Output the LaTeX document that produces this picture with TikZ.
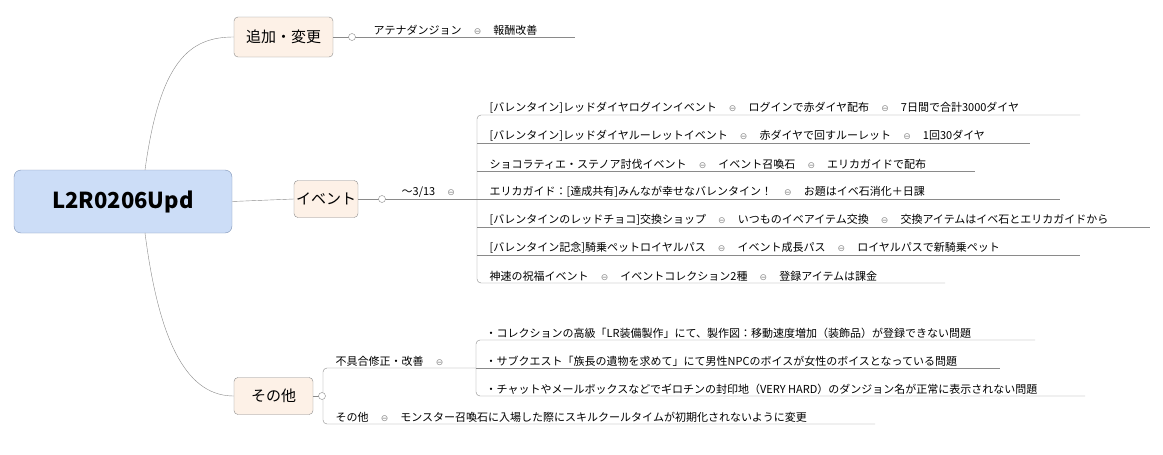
\documentclass[tikz,border=0pt]{standalone}
\usepackage{fontspec}
\setmainfont{Noto Sans CJK JP}
\newfontfamily\symfont{DejaVu Sans}
\usetikzlibrary{positioning}
\definecolor{rootfill}{HTML}{CCDDF7}
\definecolor{rootdraw}{HTML}{7D93B5}
\definecolor{topicfill}{HTML}{FDF1E7}
\definecolor{linegray}{HTML}{8A8A8A}
\newcommand{\sepmark}{\hspace{1.1em}{\symfont\color{linegray}\small ⊖}\hspace{1.1em}}
\tikzset{
  topic/.style={draw=linegray,fill=topicfill,rounded corners=4pt,font=\fontsize{15}{17}\selectfont,inner sep=0pt},
  leaf/.style={anchor=south west,font=\fontsize{11}{13}\selectfont,inner sep=1.5pt},
  branch/.style={draw=linegray,thin},
  knob/.style={draw=linegray,circle,fill=white,inner sep=0pt,minimum size=7pt}
}
\begin{document}
\begin{tikzpicture}[x=1pt,y=-1pt]
\useasboundingbox (0,0) rectangle (1163,455);

% root and main topics
\node (root) at (123,201.5) [draw=rootdraw,fill=rootfill,rounded corners=7pt,minimum width=218pt,minimum height=63pt,font=\fontsize{22}{26}\selectfont\bfseries] {L2R0206Upd};
\node (add) at (283.5,37) [topic,minimum width=99pt,minimum height=40pt] {追加・変更};
\node (event) at (326,199) [topic,minimum width=64pt,minimum height=37pt] {イベント};
\node (misc) at (273.5,396) [topic,minimum width=79pt,minimum height=37pt] {その他};

\draw[branch] (145,170) .. controls (160,60) and (190,37) .. (add.west);
\draw[branch] (root.east) -- (event.west);
\draw[branch] (145,233) .. controls (160,350) and (190,396) .. (misc.west);

% 追加・変更
\draw[branch] (add.east) -- (575,37);
\node (addknob) at (352,37) [knob] {};
\node (athena) at (372,37) [leaf] {アテナダンジョン\sepmark 報酬改善};

% イベント
\coordinate (ebr) at (477,199);
\draw[branch] (event.east) -- (ebr);
\node (eknob) at (382,199) [knob] {};
\node (eterm) at (400,199) [leaf] {〜3/13\sepmark};
\draw[branch,rounded corners=4pt] (1080,115) -- (477,115) -- (477,283) -- (945,283);
\foreach \yy/\xe in {143/1030,171/975,199/1060,227/1150,255/1080}
  \draw[branch] (477,\yy) -- (\xe,\yy);
\node (ev1) at (488,115) [leaf] {[バレンタイン]レッドダイヤログインイベント\sepmark ログインで赤ダイヤ配布\sepmark 7日間で合計3000ダイヤ};
\node (ev2) at (488,143) [leaf] {[バレンタイン]レッドダイヤルーレットイベント\sepmark 赤ダイヤで回すルーレット\sepmark 1回30ダイヤ};
\node (ev3) at (488,171) [leaf] {ショコラティエ・ステノア討伐イベント\sepmark イベント召喚石\sepmark エリカガイドで配布};
\node (ev4) at (488,199) [leaf] {エリカガイド：[達成共有]みんなが幸せなバレンタイン！\sepmark お題はイベ石消化＋日課};
\node (ev5) at (488,227) [leaf] {[バレンタインのレッドチョコ]交換ショップ\sepmark いつものイベアイテム交換\sepmark 交換アイテムはイベ石とエリカガイドから};
\node (ev6) at (488,255) [leaf] {[バレンタイン記念]騎乗ペットロイヤルパス\sepmark イベント成長パス\sepmark ロイヤルパスで新騎乗ペット};
\node (ev7) at (488,283) [leaf] {神速の祝福イベント\sepmark イベントコレクション2種\sepmark 登録アイテムは課金};

% その他
\draw[branch] (misc.east) -- (323,396);
\draw[branch,rounded corners=4pt] (476,368) -- (323,368) -- (323,424) -- (875,424);
\node (mknob) at (322,396) [knob] {};
\node (bugs) at (334,368) [leaf] {不具合修正・改善\sepmark};
\draw[branch,rounded corners=4pt] (1035,340) -- (476,340) -- (476,396) -- (1085,396);
\draw[branch] (476,368) -- (1000,368);
\node (bug1) at (484,340) [leaf] {・コレクションの高級「LR装備製作」にて、製作図：移動速度増加（装飾品）が登録できない問題};
\node (bug2) at (484,368) [leaf] {・サブクエスト「族長の遺物を求めて」にて男性NPCのボイスが女性のボイスとなっている問題};
\node (bug3) at (484,396) [leaf] {・チャットやメールボックスなどでギロチンの封印地（VERY HARD）のダンジョン名が正常に表示されない問題};
\node (other) at (334,424) [leaf] {その他\sepmark モンスター召喚石に入場した際にスキルクールタイムが初期化されないように変更};
\end{tikzpicture}
\end{document}
